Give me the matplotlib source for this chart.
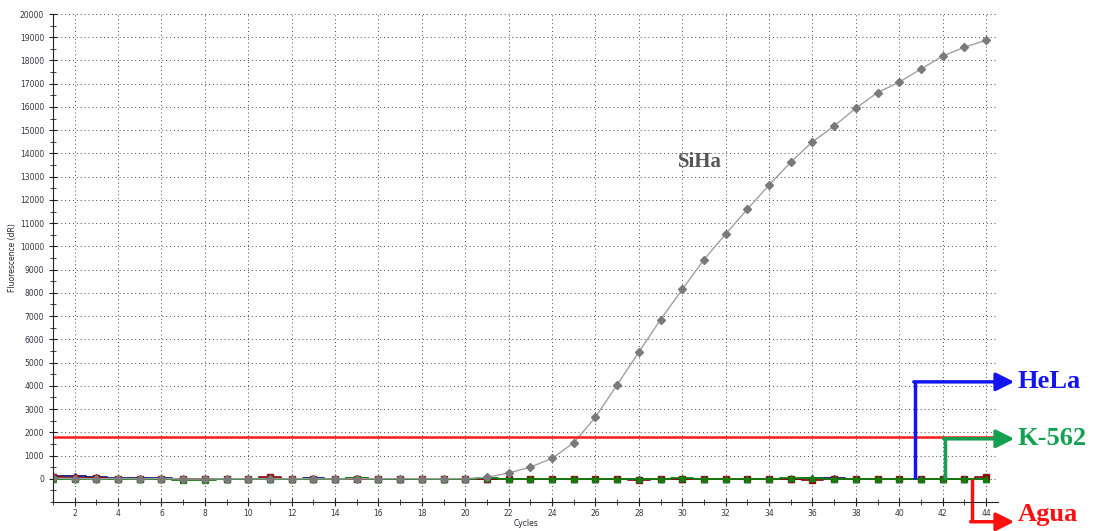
import matplotlib.pyplot as plt
import numpy as np
from matplotlib.ticker import MultipleLocator, FixedLocator

# amplification data, fluorescence (dR) per cycle
cycles = list(range(1, 45))

siha = [20, 10, 0, 10, 0, 10, -10, -10, 0, 0,
        -10, 0, 0, -10, 0, 0, 10, 0, 0, 10,
        60, 250, 500, 880, 1550, 2650, 4050, 5450, 6850, 8150,
        9430, 10530, 11600, 12640, 13630, 14500, 15180, 15950, 16620, 17070,
        17630, 18190, 18570, 18870]

hela = [130, 130, 60, 40, 40, 40, 10, 0, 0, 0,
        10, 0, 20, 0, 40, 0, 0, 0, 0, 0,
        0, 0, 0, 0, 0, 0, 10, 0, 0, 0,
        10, -30, -30, 0, 10, 20, 20, 0, 10, 0,
        0, 0, 0, 0]

agua = [60, 40, 20, 10, 0, 10, 0, -20, 0, 0,
        60, 10, 0, 0, 0, 0, 0, 0, 0, 0,
        0, 0, 0, 0, 0, 0, 0, -40, 0, 0,
        0, 0, 0, 0, 0, -50, -30, 0, 0, 0,
        0, 0, 0, 60]

k562 = [10, 0, 0, 0, 0, 0, -50, -50, 0, 0,
        0, 0, 0, 0, 20, 0, 0, 0, 0, 0,
        20, 0, 0, 0, -30, 0, 0, 0, 0, 20,
        0, 0, 0, 0, 20, 20, -30, 0, 0, 0,
        0, 0, 0, 0]

threshold = 1800

# label, vertical start cycle, arrow height, colour
callouts = [("HeLa", 40.73, 4170, "#1414f0"),
            ("K-562", 42.1, 1720, "#14a050"),
            ("Agua", 43.35, -1850, "#ff1010")]

fig = plt.figure(figsize=(10.93, 5.31), dpi=100)
ax = fig.add_axes([53 / 1093, 1 - 502 / 531, 945 / 1093, 488 / 531])

ax.plot(cycles, hela, color="#101880", lw=1.3, drawstyle="steps-mid")
ax.plot(cycles, hela, ls="none", marker="^", ms=5, color="#101880")
ax.plot(cycles, agua, color="#8b1010", lw=1.3, drawstyle="steps-mid")
ax.plot(cycles, agua, ls="none", marker="s", ms=4.5, color="#8b1010")
ax.plot(cycles, k562, color="#108010", lw=1.3, drawstyle="steps-mid")
ax.plot(cycles, k562, ls="none", marker="^", ms=5, color="#108010")
ax.plot(cycles, siha, color="#a0a0a0", lw=1.0, marker="D", ms=4.2,
        mfc="#7a7a7a", mec="#7a7a7a")

ax.axhline(threshold, color="#ff1a1a", lw=1.8)

ax.set_xlim(1, 44.55)
ax.set_ylim(-1000, 20000)
ax.xaxis.set_minor_locator(MultipleLocator(1))
ax.yaxis.set_major_locator(FixedLocator(range(0, 20001, 1000)))
ax.yaxis.set_minor_locator(MultipleLocator(500))
ax.set_xticks(range(2, 45, 2))
ax.set_xticklabels([str(c) for c in range(2, 45, 2)])

ax.tick_params(which="both", direction="inout", color="#222222",
               labelsize=5.5, labelcolor="#334")
ax.tick_params(which="major", length=6)
ax.tick_params(which="minor", length=5)
ax.tick_params(axis="x", pad=2)
ax.grid(True, which="major", ls=(0, (1, 3)), color="#444444", lw=0.7)

for side in ("top", "right"):
    ax.spines[side].set_visible(False)
ax.spines["left"].set_color("#222222")
ax.spines["bottom"].set_color("#222222")

ax.set_ylabel("Fluorescence (dR)", fontsize=5.5, color="#223", labelpad=2)
ax.set_xlabel("Cycles", fontsize=5.5, color="#223", labelpad=1)

ax.text(30.8, 13650, "SiHa", fontsize=15, fontweight="bold",
        family="Liberation Serif", color="#555555", ha="center", va="center")

# call-out arrows leaving the plot on the right
for name, xs, yh, col in callouts:
    ax.plot([xs, xs], [0, yh], color=col, lw=2.5, clip_on=False,
            solid_capstyle="butt")
    ax.annotate("", xy=(45.3, yh), xytext=(xs - 0.06, yh),
                xycoords="data", annotation_clip=False,
                arrowprops=dict(arrowstyle="-|>,head_length=1.1,head_width=0.55",
                                color=col, lw=2.5, shrinkA=0, shrinkB=0))
    ty = max(yh, -1550)
    ax.text(45.45, ty, name, fontsize=19, fontweight="bold",
            family="Liberation Serif", color=col, ha="left", va="center",
            clip_on=False)

fig.savefig("out.png", dpi=100)
